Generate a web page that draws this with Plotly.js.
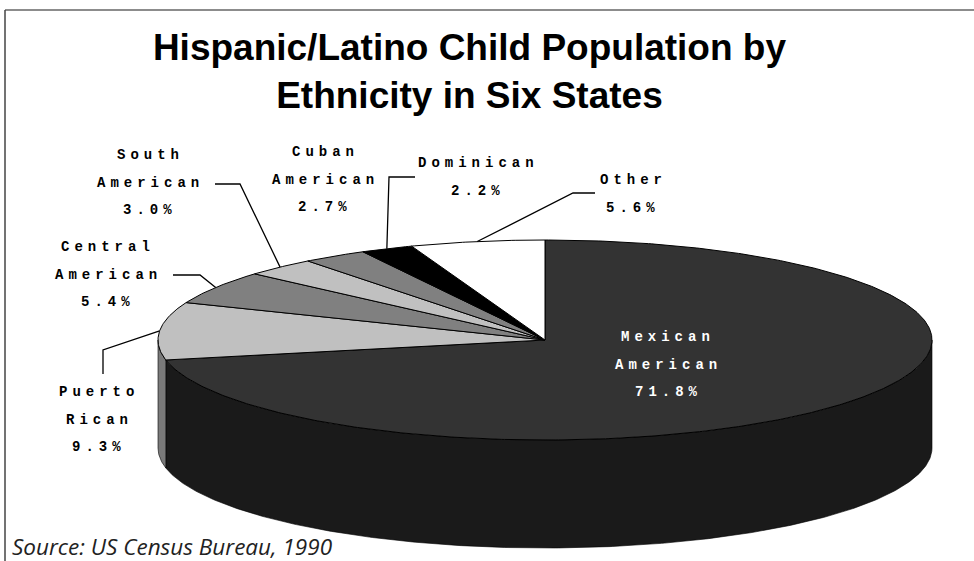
<!DOCTYPE html>
<html>
<head>
<meta charset="utf-8">
<script src="https://cdn.plot.ly/plotly-3.0.1.min.js"></script>
<style>
html,body{margin:0;padding:0;background:#fff;}
#chart{width:974px;height:561px;}
.annotation-text{letter-spacing:5px;}
.annotation[data-index="0"] .annotation-text{letter-spacing:0;}
</style>
</head>
<body>
<div id="chart"></div>
<script>
// ---- data ----
const categories = ['Mexican American', 'Puerto Rican', 'Central American', 'South American', 'Cuban American', 'Dominican', 'Other'];
const shares = [71.8, 9.3, 5.4, 3.0, 2.7, 2.2, 5.6];
const titleText = 'Hispanic/Latino Child Population by<br>Ethnicity in Six States';
const sourceText = 'Source: US Census Bureau, 1990';

// ---- styles / layout geometry (not data) ----
const TOP_COLORS  = ['#333333', '#c0c0c0', '#808080', '#c0c0c0', '#808080', '#000000', '#ffffff'];
const SIDE_COLORS = ['#1a1a1a', '#7a7a7a', '#5a5a5a', '#8a8a8a', '#5a5a5a', '#000000', '#d0d0d0'];
const CX = 545, CY = 340, RX = 387, RY = 100, DEPTH = 108;
const LINE_GAP = 27.5;
const LABEL_POS = [
  {x: 668, y: 337, color: '#ffffff', leader: null},
  {x: 99,  y: 392, color: '#000', leader: [[103, 374], [103, 350]]},
  {x: 108, y: 247, color: '#000', leader: [[173, 275], [200, 275]]},
  {x: 150, y: 155, color: '#000', leader: [[215, 184], [240, 184]]},
  {x: 325, y: 152, color: '#000', leader: null},
  {x: 478, y: 163, color: '#000', leader: [[415, 177], [389, 177]]},
  {x: 633, y: 180, color: '#000', leader: [[595, 193], [573, 193]]}
];

function pt(deg, dy) {
  const r = deg * Math.PI / 180;
  return [CX + RX * Math.sin(r), CY - RY * Math.cos(r) + (dy || 0)];
}
function arc(a1, a2, dy) {
  const pts = [];
  const n = Math.max(2, Math.ceil(Math.abs(a2 - a1) / 0.5));
  for (let k = 0; k <= n; k++) pts.push(pt(a1 + (a2 - a1) * k / n, dy));
  return pts;
}

const total = shares.reduce((a, b) => a + b, 0);
const starts = [], ends = [];
let acc = 0;
shares.forEach(v => { starts.push(acc / total * 360); acc += v; ends.push(acc / total * 360); });

const sideTraces = [], topTraces = [], leaderTraces = [];
categories.forEach((c, i) => {
  const a1 = starts[i], a2 = ends[i];
  const b1 = Math.max(a1, 90), b2 = Math.min(a2, 270);
  if (b1 < b2) {
    const up = arc(b1, b2, 0), dn = arc(b2, b1, DEPTH);
    const poly = up.concat(dn); poly.push(up[0]);
    sideTraces.push({
      type: 'scatter', mode: 'lines', x: poly.map(p => p[0]), y: poly.map(p => p[1]),
      fill: 'toself', fillcolor: SIDE_COLORS[i], line: {color: '#000', width: 0.6},
      hoverinfo: 'skip', showlegend: false
    });
  }
  const a = arc(a1, a2, 0);
  const poly = [[CX, CY]].concat(a); poly.push([CX, CY]);
  topTraces.push({
    type: 'scatter', mode: 'lines', name: c, x: poly.map(p => p[0]), y: poly.map(p => p[1]),
    fill: 'toself', fillcolor: TOP_COLORS[i], line: {color: '#000', width: 1},
    hoverinfo: 'skip', showlegend: false
  });
  const lp = LABEL_POS[i];
  if (lp.leader) {
    const m = pt((a1 + a2) / 2, 0);
    const path = lp.leader.concat([m]);
    leaderTraces.push({
      type: 'scatter', mode: 'lines', x: path.map(p => p[0]), y: path.map(p => p[1]),
      line: {color: '#000', width: 1.3}, hoverinfo: 'skip', showlegend: false
    });
  }
});

const annotations = [{
  x: 10, y: 0, xref: 'x', yref: 'paper', xanchor: 'left', yanchor: 'bottom', align: 'left', yshift: -3,
  text: sourceText, showarrow: false,
  font: {family: 'Open Sans, Liberation Sans, sans-serif', size: 22.5, style: 'italic', color: '#222'}
}];
categories.forEach((c, i) => {
  const lp = LABEL_POS[i];
  const lines = c.split(' ').concat([shares[i].toFixed(1) + '%']);
  lines.forEach((t, k) => {
    annotations.push({
      x: lp.x, y: lp.y + k * LINE_GAP, xref: 'x', yref: 'y', xanchor: 'center', yanchor: 'middle',
      text: t, showarrow: false,
      font: {family: 'Liberation Mono, DejaVu Sans Mono, monospace', size: 14, weight: 'bold', color: lp.color}
    });
  });
});

const layout = {
  width: 974, height: 561,
  margin: {l: 0, r: 0, t: 0, b: 0},
  paper_bgcolor: '#fff', plot_bgcolor: '#fff',
  title: {
    text: titleText, x: 0.482, xanchor: 'center', y: 0.893, yanchor: 'top', yref: 'container',
    font: {family: 'Liberation Sans, Arial, sans-serif', size: 37, weight: 'bold', color: '#000'}
  },
  xaxis: {range: [0, 974], visible: false, fixedrange: true},
  yaxis: {range: [561, 0], visible: false, fixedrange: true},
  hovermode: false,
  showlegend: false,
  annotations: annotations,
  shapes: [
    {type: 'line', xref: 'x', yref: 'y', x0: 5, y0: 10, x1: 974, y1: 10, line: {color: '#666', width: 1.5}},
    {type: 'line', xref: 'x', yref: 'y', x0: 5, y0: 10, x1: 5, y1: 561, line: {color: '#444', width: 1.5}}
  ]
};

Plotly.newPlot('chart', sideTraces.concat(topTraces, leaderTraces), layout, {displayModeBar: false, staticPlot: true});
</script>
</body>
</html>
